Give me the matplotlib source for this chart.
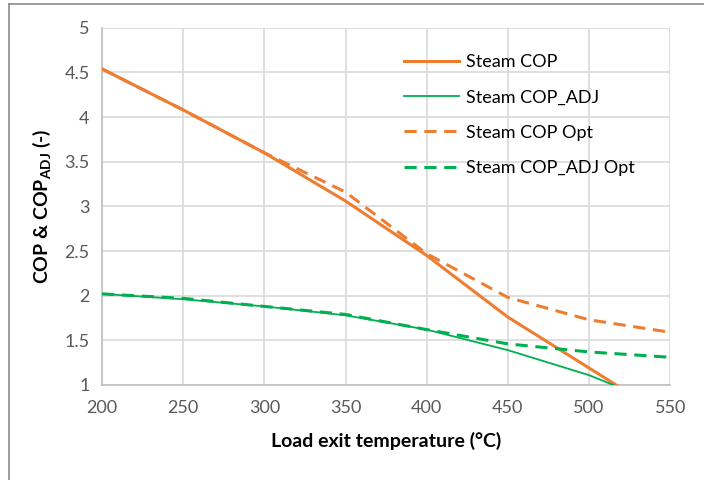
import matplotlib
matplotlib.use('Agg')
import matplotlib.pyplot as plt
from matplotlib.lines import Line2D

plt.rcParams['font.family'] = ['Lato', 'DejaVu Sans']
plt.rcParams['mathtext.fontset'] = 'custom'
plt.rcParams['mathtext.rm'] = 'Lato'
plt.rcParams['mathtext.bf'] = 'Lato:bold'

# Load exit temperature (°C)
temps = [200, 250, 300, 350, 400, 450, 500, 550]

steam_cop = [4.54, 4.08, 3.60, 3.06, 2.45, 1.76, 1.19, 0.62]
steam_cop_adj = [2.02, 1.96, 1.88, 1.78, 1.62, 1.39, 1.11, 0.74]
steam_cop_opt = [4.54, 4.08, 3.60, 3.16, 2.47, 1.98, 1.73, 1.59]
steam_cop_adj_opt = [2.02, 1.97, 1.88, 1.79, 1.62, 1.46, 1.37, 1.31]

ORANGE = '#ED7D31'
GREEN = '#00B050'
GRID = '#D9D9D9'
TICK = '#595959'

fig = plt.figure(figsize=(7.04, 4.8), dpi=100)
ax = fig.add_axes([0.145, 0.198, 0.807, 0.744])

ax.plot(temps, steam_cop, color=ORANGE, lw=2.2, label='Steam COP', zorder=3)
ax.plot(temps, steam_cop_adj, color=GREEN, lw=1.3, label='Steam COP_ADJ', zorder=3)
ax.plot(temps, steam_cop_opt, color=ORANGE, lw=2.2, ls=(0, (4, 2.5)),
        label='Steam COP Opt', zorder=3)
ax.plot(temps, steam_cop_adj_opt, color=GREEN, lw=2.2, ls=(0, (4, 2.5)),
        label='Steam COP_ADJ Opt', zorder=3)

ax.set_xlim(200, 550)
ax.set_ylim(1, 5)
ax.set_xticks(range(200, 551, 50))
ax.set_yticks([1, 1.5, 2, 2.5, 3, 3.5, 4, 4.5, 5])
ax.set_yticklabels(['1', '1.5', '2', '2.5', '3', '3.5', '4', '4.5', '5'])
ax.grid(True, color=GRID, lw=1.2, zorder=0)
ax.set_axisbelow(True)
for side in ['top', 'right']:
    ax.spines[side].set_visible(False)
for side in ['left', 'bottom']:
    ax.spines[side].set_color('#BFBFBF')
    ax.spines[side].set_linewidth(1.2)
ax.tick_params(length=0, labelsize=13, colors=TICK, pad=11)
ax.tick_params(axis='y', pad=9)

ax.set_xlabel('Load exit temperature (°C)', fontsize=14, fontweight='bold',
              labelpad=11)
ax.set_ylabel(r'COP & COP$_\mathbf{ADJ}$ (-)', fontsize=14,
              fontweight='bold', labelpad=8)

ax.legend(loc='upper left', bbox_to_anchor=(0.551, 0.921),
          bbox_transform=fig.transFigure, frameon=False, fontsize=13,
          handlelength=3.05, handletextpad=0.4, labelspacing=1.07)

# thin gray frame around the chart area
fig.add_artist(Line2D([9 / 704, 9 / 704], [0, 1 - 4 / 480],
                      transform=fig.transFigure, color='#8C8C8C', lw=1.2))
fig.add_artist(Line2D([9 / 704, 1], [1 - 4 / 480, 1 - 4 / 480],
                      transform=fig.transFigure, color='#8C8C8C', lw=1.2))

fig.savefig('out.png', dpi=100)
